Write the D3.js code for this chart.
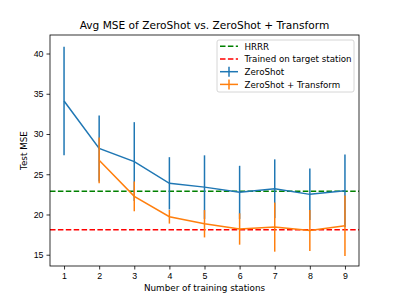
<!DOCTYPE html>
<html>
<head>
<meta charset="utf-8">
<script src="https://cdn.jsdelivr.net/npm/d3@7"></script>
<style>
  body { margin: 0; background: #fff; }
  svg { font-family: "DejaVu Sans", sans-serif; }
</style>
</head>
<body>
<svg id="graph" width="399" height="299"></svg>
<script>
// ===== data =====
let stations = [1, 2, 3, 4, 5, 6, 7, 8, 9]
let zeroShotMean = [34.1, 28.2, 26.57, 23.87, 23.4, 22.75, 23.2, 22.5, 22.96]
let zeroShotErr  = [6.75, 4.1, 4.9, 3.25, 3.95, 3.3, 3.65, 3.2, 4.5]
let transformX    = [2, 3, 4, 5, 6, 7, 8, 9]
let transformMean = [26.73, 22.25, 19.72, 18.85, 18.2, 18.43, 18.02, 18.6]
let transformErr  = [2.85, 1.85, 0.85, 1.7, 1.95, 3.05, 2.55, 3.75]
let hrrr = 22.9
let trained = 18.1
let yTicks = [15, 20, 25, 30, 35, 40]

let blue = "#1f77b4", orange = "#ff7f0e", green = "#008000", red = "#ff0000"

let svg = d3.select("#graph"),
  margin = {top: 35, right: 40, bottom: 33, left: 50},
  width = svg.attr("width") - margin.left - margin.right,
  height = svg.attr("height") - margin.top - margin.bottom,
  g = svg.append("g").attr("transform", "translate(" + margin.left + "," + margin.top + ")")

let x = d3.scaleLinear().domain([0.6, 9.4]).range([0, width]),
    y = d3.scaleLinear().domain([13.6, 42.3]).range([height, 0])

// axes
let xAxis = g.append("g")
  .attr("transform", "translate(0," + height + ")")
  .call(d3.axisBottom(x).tickValues(stations).tickFormat(d3.format("d")).tickSize(3.5).tickPadding(3))
let yAxis = g.append("g")
  .call(d3.axisLeft(y).tickValues(yTicks).tickSize(3.5).tickPadding(3))
;[xAxis, yAxis].forEach(function(a) {
  a.select(".domain").remove()
  a.selectAll("line").attr("stroke", "#000").attr("stroke-width", 0.8)
  a.selectAll("text").attr("fill", "#000").style("font-size", "8.8px")
})

// reference lines
let dash = "5.5,2.4"
g.append("line").attr("x1", 0).attr("x2", width).attr("y1", y(hrrr)).attr("y2", y(hrrr))
  .attr("stroke", green).attr("stroke-width", 1.5).attr("stroke-dasharray", dash)
g.append("line").attr("x1", 0).attr("x2", width).attr("y1", y(trained)).attr("y2", y(trained))
  .attr("stroke", red).attr("stroke-width", 1.5).attr("stroke-dasharray", dash)

let line = d3.line().x(function(d) { return x(d.x) }).y(function(d) { return y(d.m) })

function drawSeries(xs, means, errs, color) {
  let pts = xs.map(function(v, i) { return {x: v, m: means[i], e: errs[i]} })
  g.append("path").datum(pts).attr("d", line)
    .attr("fill", "none").attr("stroke", color).attr("stroke-width", 1.5)
  g.selectAll(null).data(pts).enter().append("line")
    .attr("x1", function(d) { return x(d.x) }).attr("x2", function(d) { return x(d.x) })
    .attr("y1", function(d) { return y(d.m - d.e) }).attr("y2", function(d) { return y(d.m + d.e) })
    .attr("stroke", color).attr("stroke-width", 1.5)
}
drawSeries(stations, zeroShotMean, zeroShotErr, blue)
drawSeries(transformX, transformMean, transformErr, orange)

// frame
g.append("rect").attr("width", width).attr("height", height)
  .attr("fill", "none").attr("stroke", "#000").attr("stroke-width", 0.8)

// title & labels
svg.append("text").attr("x", margin.left + width / 2).attr("y", 29)
  .attr("text-anchor", "middle").style("font-size", "10.6px").text("Avg MSE of ZeroShot vs. ZeroShot + Transform")
svg.append("text").attr("x", margin.left + width / 2).attr("y", 291)
  .attr("text-anchor", "middle").style("font-size", "8.8px").text("Number of training stations")
svg.append("text").attr("transform", "translate(27," + (margin.top + height / 2) + ") rotate(-90)")
  .attr("text-anchor", "middle").style("font-size", "8.8px").text("Test MSE")

// legend
let legendItems = [
  {label: "HRRR", color: green, dashed: true},
  {label: "Trained on target station", color: red, dashed: true},
  {label: "ZeroShot", color: blue, dashed: false},
  {label: "ZeroShot + Transform", color: orange, dashed: false}
]
let lg = svg.append("g").attr("transform", "translate(217,40)")
lg.append("rect").attr("width", 137).attr("height", 52).attr("rx", 2)
  .attr("fill", "#fff").attr("fill-opacity", 0.8).attr("stroke", "#ccc").attr("stroke-width", 0.8)
legendItems.forEach(function(d, i) {
  let yy = 6.3 + i * 12.7
  lg.append("line").attr("x1", 3).attr("x2", 21).attr("y1", yy).attr("y2", yy)
    .attr("stroke", d.color).attr("stroke-width", 1.5).attr("stroke-dasharray", d.dashed ? dash : null)
  if (!d.dashed) {
    lg.append("line").attr("x1", 12).attr("x2", 12).attr("y1", yy - 5).attr("y2", yy + 5)
      .attr("stroke", d.color).attr("stroke-width", 1.5)
  }
  lg.append("text").attr("x", 27.5).attr("y", yy + 3.2).style("font-size", "8.7px").text(d.label)
})
</script>
</body>
</html>
